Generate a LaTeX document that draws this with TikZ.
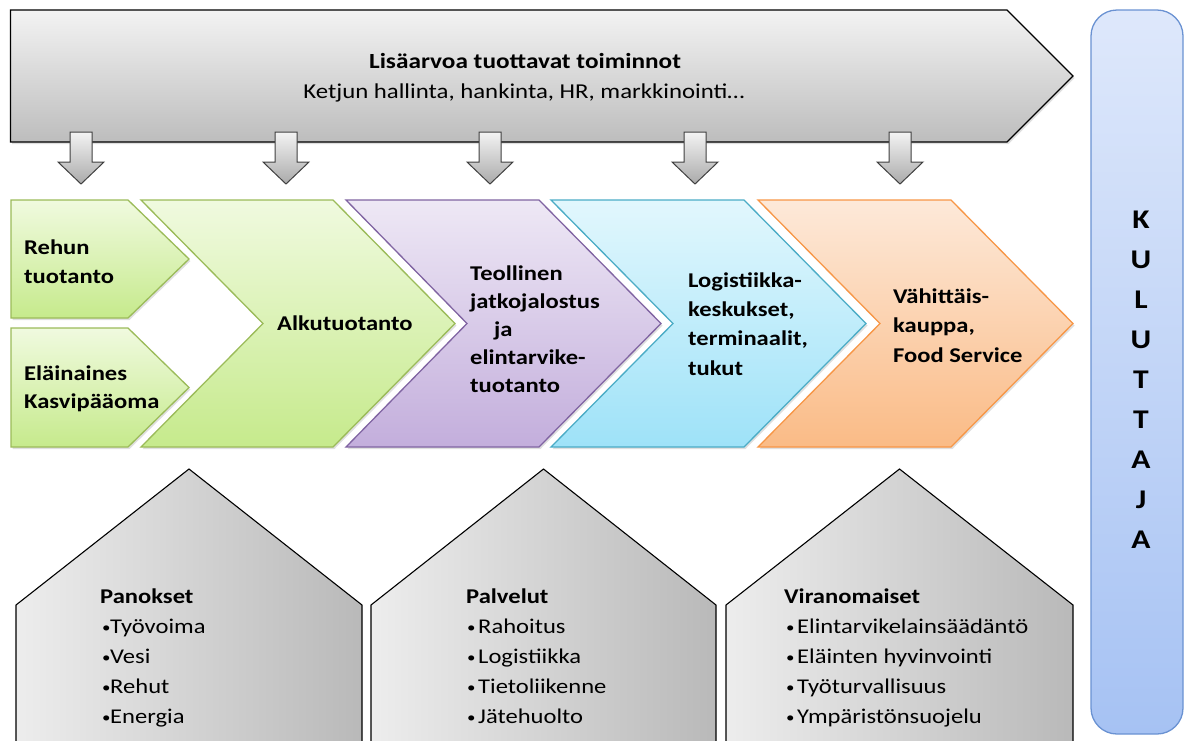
\documentclass[tikz,border=0pt]{standalone}
\usepackage{fontspec}
\setmainfont{Carlito}[FakeStretch=1.17]
\usetikzlibrary{shadows}
\definecolor{grayTop}{HTML}{F3F3F3}
\definecolor{grayBot}{HTML}{BDBDBD}
\definecolor{greenTop}{HTML}{F0FADF}
\definecolor{greenBot}{HTML}{C6EA8C}
\definecolor{greenLine}{HTML}{9BBB59}
\definecolor{purpTop}{HTML}{EEE8F5}
\definecolor{purpBot}{HTML}{C3AEDC}
\definecolor{purpLine}{HTML}{8064A2}
\definecolor{blueTop}{HTML}{E2F7FD}
\definecolor{blueBot}{HTML}{9EE2F8}
\definecolor{blueLine}{HTML}{4BACC6}
\definecolor{oranTop}{HTML}{FDE9D9}
\definecolor{oranBot}{HTML}{FABB86}
\definecolor{oranLine}{HTML}{F79646}
\definecolor{custTop}{HTML}{DEE8FB}
\definecolor{custBot}{HTML}{A6C2F3}
\definecolor{custLine}{HTML}{6A92D2}
\definecolor{houseL}{HTML}{EDEDED}
\definecolor{houseR}{HTML}{B9B9B9}
\newcommand{\bul}[1]{\makebox[#1][l]{\raisebox{1pt}{\fontsize{14.5}{14.5}\selectfont•}}}
\begin{document}
\begin{tikzpicture}[x=1pt,y=-1pt,
  shad/.style={drop shadow={opacity=0.25,shadow xshift=1.5pt,shadow yshift=-2pt}},
  topshape/.style={draw=black,line width=1.2pt,top color=grayTop,bottom color=grayBot,shad},
  downarrow/.style={draw=black!75,line width=1pt,top color=grayTop,bottom color=grayBot!90!black},
  greenchev/.style={draw=greenLine,line width=1.3pt,top color=greenTop,bottom color=greenBot,shad},
  purpchev/.style={draw=purpLine,line width=1.3pt,top color=purpTop,bottom color=purpBot,shad},
  bluechev/.style={draw=blueLine,line width=1.3pt,top color=blueTop,bottom color=blueBot,shad},
  oranchev/.style={draw=oranLine,line width=1.3pt,top color=oranTop,bottom color=oranBot,shad},
  custbox/.style={draw=custLine,line width=1.3pt,top color=custTop,bottom color=custBot,rounded corners=26pt},
  house/.style={draw=black,line width=1.1pt,left color=houseL,right color=houseR},
  btxt/.style={font=\fontsize{21}{25}\selectfont\bfseries,anchor=base west,inner sep=0pt},
  rtxt/.style={font=\fontsize{21}{25}\selectfont,anchor=base west,inner sep=0pt},
  ktxt/.style={font=\fontsize{27}{30}\selectfont\bfseries,anchor=base,inner sep=0pt}]
\useasboundingbox (0,0) rectangle (1186,740);
\begin{scope}
\clip (0,0) rectangle (1186,740);
% consumer box
\draw[custbox] (1091,10) rectangle (1183,734);
% top arrow
\draw[topshape] (10.5,10) -- (1007,10) -- (1073,76) -- (1007,142) -- (10.5,142) -- cycle;
% down arrows
\foreach \c in {81,286,490,695,900}{
  \draw[downarrow] (\c-11,132) -- (\c+11,132) -- (\c+11,162) -- (\c+23,162) -- (\c,184) -- (\c-23,162) -- (\c-11,162) -- cycle;
}
% chevrons
\draw[greenchev] (11,200) -- (128,200) -- (189,259) -- (128,318) -- (11,318) -- cycle;
\draw[greenchev] (11,328) -- (128,328) -- (189,387.5) -- (128,447) -- (11,447) -- cycle;
\draw[greenchev] (141,200) -- (333,200) -- (455,323.5) -- (333,447) -- (141,447) -- (263,323.5) -- cycle;
\draw[purpchev] (346,200) -- (539,200) -- (661,323.5) -- (539,447) -- (346,447) -- (467,323.5) -- cycle;
\draw[bluechev] (551,200) -- (744,200) -- (866,323.5) -- (744,447) -- (551,447) -- (673,323.5) -- cycle;
\draw[oranchev] (758,200) -- (951,200) -- (1073,323.5) -- (951,447) -- (758,447) -- (880,323.5) -- cycle;
% houses
\draw[house] (16,760) -- (16,605) -- (189,469) -- (362,605) -- (362,760);
\draw[house] (371,760) -- (371,605) -- (543.5,469) -- (716,605) -- (716,760);
\draw[house] (726,760) -- (726,605) -- (899.5,469) -- (1073,605) -- (1073,760);
\end{scope}
% top texts
\node[font=\fontsize{21.6}{25}\selectfont\bfseries,anchor=base,inner sep=0pt] (title) at (525,68) {Lisäarvoa tuottavat toiminnot};
\node[font=\fontsize{21.2}{25}\selectfont,anchor=base,inner sep=0pt] (subtitle) at (524,98.5) {Ketjun hallinta, hankinta, HR, markkinointi…};
% chevron texts
\node[btxt] (r1) at (24,254) {Rehun};
\node[btxt] (r2) at (24,283) {tuotanto};
\node[btxt] (e1) at (24,380) {Eläinaines};
\node[btxt] (e2) at (24,408) {Kasvipääoma};
\node[btxt] (alku) at (277,330) {Alkutuotanto};
\node[btxt] (p1) at (470,280) {Teollinen};
\node[btxt] (p2) at (470,308) {jatkojalostus};
\node[btxt] (p3) at (494,336) {ja};
\node[btxt] (p4) at (470,364) {elintarvike-};
\node[btxt] (p5) at (470,392) {tuotanto};
\node[btxt] (b1) at (688,287) {Logistiikka-};
\node[btxt] (b2) at (688,316) {keskukset,};
\node[btxt] (b3) at (688,345.5) {terminaalit,};
\node[btxt] (b4) at (688,375) {tukut};
\node[btxt] (o1) at (893,303) {Vähittäis-};
\node[btxt] (o2) at (893,332.5) {kauppa,};
\node[btxt] (o3) at (893,362) {Food Service};
% consumer letters
\foreach \l/\yy [count=\i] in {K/228,U/268,L/308,U/348,T/388,T/428,A/468,J/508,A/548}{
  \node[ktxt] (k\i) at (1141,\yy) {\l};
}
% house texts
\node[btxt] (h1t) at (100,603) {Panokset};
\node[rtxt] (h1a) at (102,633) {\bul{8pt}Työvoima};
\node[rtxt] (h1b) at (102,663) {\bul{8pt}Vesi};
\node[rtxt] (h1c) at (102,693) {\bul{8pt}Rehut};
\node[rtxt] (h1d) at (102,723) {\bul{8pt}Energia};
\node[btxt] (h2t) at (466,603) {Palvelut};
\node[rtxt] (h2a) at (467,633) {\bul{11pt}Rahoitus};
\node[rtxt] (h2b) at (467,663) {\bul{11pt}Logistiikka};
\node[rtxt] (h2c) at (467,693) {\bul{11pt}Tietoliikenne};
\node[rtxt] (h2d) at (467,723) {\bul{11pt}Jätehuolto};
\node[btxt] (h3t) at (784,603) {Viranomaiset};
\node[rtxt] (h3a) at (786,633) {\bul{11pt}Elintarvikelainsäädäntö};
\node[rtxt] (h3b) at (786,663) {\bul{11pt}Eläinten hyvinvointi};
\node[rtxt] (h3c) at (786,693) {\bul{11pt}Työturvallisuus};
\node[rtxt] (h3d) at (786,723) {\bul{11pt}Ympäristönsuojelu};
\end{tikzpicture}
\end{document}
